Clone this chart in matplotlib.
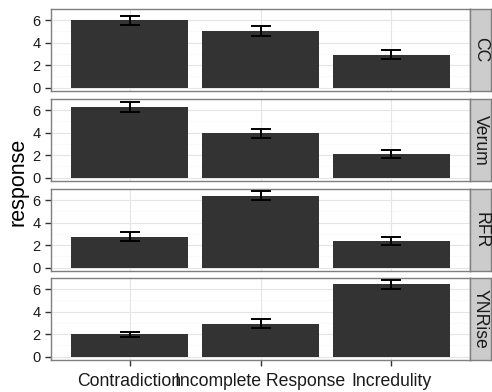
import matplotlib
matplotlib.use("Agg")
import matplotlib.pyplot as plt
import numpy as np

plt.rcParams['font.family'] = ['Liberation Sans', 'DejaVu Sans']

categories = ["Contradiction", "Incomplete Response", "Incredulity"]
facets = ["CC", "Verum", "RFR", "YNRise"]
means = {
    "CC":     [5.96, 5.02, 2.90],
    "Verum":  [6.28, 3.95, 2.12],
    "RFR":    [2.72, 6.36, 2.37],
    "YNRise": [1.98, 2.90, 6.42],
}
errs = {
    "CC":     [0.40, 0.45, 0.40],
    "Verum":  [0.42, 0.40, 0.37],
    "RFR":    [0.40, 0.40, 0.38],
    "YNRise": [0.22, 0.40, 0.38],
}
yticks = [0, 2, 4, 6]

W, H = 492, 392
fig = plt.figure(figsize=(W / 100, H / 100), dpi=100)

left, right = 51, 470
strip_r = 491
tops = [9, 99, 189, 278]
ph = 82

def rect(x0, y0, x1, y1):
    return [x0 / W, 1 - y1 / H, (x1 - x0) / W, (y1 - y0) / H]

x = np.arange(1, len(categories) + 1)
for i, (f, top) in enumerate(zip(facets, tops)):
    ax = fig.add_axes(rect(left, top, right, top + ph))
    ax.set_facecolor("white")
    ax.set_xlim(0.4, 3.6)
    ax.set_ylim(-0.3, 6.98)
    for yv in [1, 3, 5]:
        ax.axhline(yv, color="#FAFAFA", lw=0.8, zorder=0)
    for yv in yticks:
        ax.axhline(yv, color="#E5E5E5", lw=0.8, zorder=0)
    for xv in x:
        ax.axvline(xv, color="#E5E5E5", lw=0.8, zorder=0)
    ax.bar(x, means[f], width=0.9, color="#333333", zorder=2)
    ax.errorbar(x, means[f], yerr=errs[f], fmt="none", ecolor="black",
                elinewidth=1.4, capsize=7.5, capthick=1.4, zorder=3)
    for s in ax.spines.values():
        s.set_color("#7F7F7F")
        s.set_linewidth(1.0)
    ax.set_yticks(yticks)
    ax.set_yticklabels([str(v) for v in yticks], fontsize=10.5, color="#1A1A1A")
    ax.tick_params(axis="y", length=4.5, width=1.0, color="#333333", pad=3)
    ax.set_xticks(x)
    if i == len(facets) - 1:
        ax.set_xticklabels(categories, fontsize=12.7, color="#1A1A1A")
        ax.tick_params(axis="x", length=4.5, width=1.0, color="#333333", pad=5)
    else:
        ax.set_xticklabels([])
        ax.tick_params(axis="x", length=0)
    # strip
    sax = fig.add_axes(rect(right, top, strip_r, top + ph))
    sax.set_facecolor("#CCCCCC")
    sax.set_xticks([]); sax.set_yticks([])
    for s in sax.spines.values():
        s.set_color("#7F7F7F")
        s.set_linewidth(1.0)
    sax.text(0.5, 0.5, f, rotation=-90, ha="center", va="center",
             fontsize=12.7, color="#1A1A1A", transform=sax.transAxes)

fig.text(18 / W, 1 - 182 / H, "response", rotation=90, ha="center", va="center",
         fontsize=15.5, color="black")

fig.savefig("out.png", dpi=100)
